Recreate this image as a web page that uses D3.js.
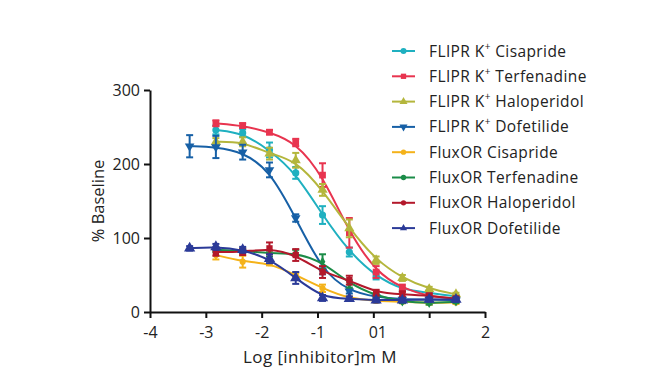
<!DOCTYPE html>
<html><head><meta charset="utf-8">
<script src="https://cdn.jsdelivr.net/npm/d3@7"></script>
<style>
body{margin:0;background:#fff;}
text{font-family:"Open Sans",sans-serif;fill:#222;}
</style></head>
<body><svg id="c" width="650" height="384"></svg>
<script>
const logConc = [-3.29, -2.82, -2.34, -1.86, -1.39, -0.91, -0.43, 0.05, 0.52, 1.0, 1.48];
const xTicks = [-4, -3, -2, -1, 0, 1, 2];
const xTickLabels = ["-4", "-3", "-2", "-1", "01", "", "2"];
const yTicks = [0, 100, 200, 300];

const seriesNames = ["FLIPR K+ Cisapride","FLIPR K+ Terfenadine","FLIPR K+ Haloperidol","FLIPR K+ Dofetilide",
  "FluxOR Cisapride","FluxOR Terfenadine","FluxOR Haloperidol","FluxOR Dofetilide"];

const fliprCisapride    = [null, 246, 242, 219, 188, 131, 81, 48, 30, 26, 21];
const fliprTerfenadine  = [null, 255, 252, 243, 229, 185, 107, 54, 32, 21, 18];
const fliprHaloperidol  = [null, 230, 230, 214, 205, 165, 113, 70, 46, 31, 24];
const fliprDofetilide   = [224, 223, 216, 192, 127, 55, 28, 20, 17, 17, 16];
const fluxCisapride     = [null, 77, 68, 66, 50, 32, 18, 15, 14, 12, 13];
const fluxTerfenadine   = [null, 84, 83, 79, 80, 68, 38, 22, 14, 12, 14];
const fluxHaloperidol   = [null, 81, 81, 86, 77, 54, 43, 26, 24, 22, 18];
const fluxDofetilide    = [86, 88, 84, 72, 46, 19, 18, 16, 16, 17, 17];

const errFliprCisapride   = [null, 6, 5, 10, 8, 12, 6, 4, 3, 3, 2];
const errFliprTerfenadine = [null, 4, 3, 3, 5, 16, 20, 8, 5, 4, 3];
const errFliprHaloperidol = [null, 5, 6, 8, 10, 8, 12, 5, 4, 3, 2];
const errFliprDofetilide  = [15, 15, 10, 10, 5, 4, 3, 3, 3, 3, 3];
const errFluxCisapride    = [null, 6, 8, 3, 3, 5, 3, 2, 2, 2, 2];
const errFluxTerfenadine  = [null, 3, 3, 4, 4, 10, 5, 3, 2, 2, 2];
const errFluxHaloperidol  = [null, 5, 4, 8, 8, 8, 6, 4, 4, 3, 3];
const errFluxDofetilide   = [3, 4, 4, 6, 8, 4, 3, 3, 3, 3, 3];

const values = [fliprCisapride, fliprTerfenadine, fliprHaloperidol, fliprDofetilide,
  fluxCisapride, fluxTerfenadine, fluxHaloperidol, fluxDofetilide];
const errors = [errFliprCisapride, errFliprTerfenadine, errFliprHaloperidol, errFliprDofetilide,
  errFluxCisapride, errFluxTerfenadine, errFluxHaloperidol, errFluxDofetilide];
const colors = ["#1fb0c0","#e8344f","#b4b63c","#1760a6","#f4b21a","#1b8c48","#b3182b","#2b3a98"];
const shapes = [d3.symbolCircle, d3.symbolSquare, d3.symbolTriangle, d3.symbolTriangle,
  d3.symbolCircle, d3.symbolDiamond, d3.symbolSquare, d3.symbolTriangle];
const sizes = [40, 45, 45, 40, 30, 28, 40, 55];
const rot = [0,0,0,180,0,0,0,0];

const svg = d3.select("#c");
svg.append("rect").attr("width",650).attr("height",384).attr("fill","#fff");

const x = d3.scaleLinear().domain([-4, 2]).range([150, 485]);
const y = d3.scaleLinear().domain([0, 300]).range([312, 90]);

// axes
const xAxis = svg.append("g").attr("transform","translate(0,312)")
  .call(d3.axisBottom(x).tickValues(xTicks).tickSize(6).tickSizeOuter(0)
    .tickFormat((d,i)=>xTickLabels[i]));
const yAxis = svg.append("g").attr("transform","translate(150,0)")
  .call(d3.axisLeft(y).tickValues(yTicks).tickSize(6).tickSizeOuter(0));
[xAxis, yAxis].forEach(g=>{
  g.select(".domain").attr("stroke","#111").attr("stroke-width",2);
  g.selectAll(".tick line").attr("stroke","#111").attr("stroke-width",2);
  g.selectAll(".tick text").attr("font-size",16).attr("font-family","Open Sans").attr("fill","#222");
});
xAxis.selectAll(".tick text").attr("dy","1.05em");
xAxis.selectAll(".tick text").filter((d)=>d===0).attr("dx",4);
yAxis.selectAll(".tick text").attr("dx",-1);

svg.append("text").attr("x",320).attr("y",363).attr("text-anchor","middle")
  .attr("font-size",17).attr("letter-spacing",0.4).text("Log [inhibitor]m M");
svg.append("text").attr("transform","translate(104,201) rotate(-90)").attr("text-anchor","middle")
  .attr("font-size",16.5).text("% Baseline");

const line = d3.line().defined(d=>d[1]!=null).x(d=>x(d[0])).y(d=>y(d[1])).curve(d3.curveBasis);

values.forEach((vals,si)=>{
  const pts = logConc.map((c,i)=>[c, vals[i], errors[si][i]]).filter(p=>p[1]!=null);
  const g = svg.append("g");
  g.append("path").datum(pts).attr("d",line).attr("fill","none")
    .attr("stroke",colors[si]).attr("stroke-width",2);
  pts.forEach(p=>{
    const e = p[2]||0;
    if (e>0){
      const cx = x(p[0]);
      g.append("line").attr("x1",cx).attr("x2",cx).attr("y1",y(p[1]-e)).attr("y2",y(p[1]+e))
        .attr("stroke",colors[si]).attr("stroke-width",2);
      [p[1]-e,p[1]+e].forEach(v=>g.append("line").attr("x1",cx-3.5).attr("x2",cx+3.5)
        .attr("y1",y(v)).attr("y2",y(v)).attr("stroke",colors[si]).attr("stroke-width",2));
    }
  });
  g.selectAll("path.m").data(pts).join("path").attr("class","m")
    .attr("d", d3.symbol().type(shapes[si]).size(sizes[si]))
    .attr("transform",d=>`translate(${x(d[0])},${y(d[1])}) rotate(${rot[si]})`)
    .attr("fill",colors[si]);
});

// legend
const lg = svg.append("g");
seriesNames.forEach((name,i)=>{
  const yy = 51 + i*25.3;
  lg.append("line").attr("x1",392).attr("x2",415).attr("y1",yy).attr("y2",yy)
    .attr("stroke",colors[i]).attr("stroke-width",2);
  lg.append("path").attr("d", d3.symbol().type(i>=4 && i<7 ? d3.symbolCircle : shapes[i]).size(i>=4?22:28))
    .attr("transform",`translate(403.5,${yy}) rotate(${rot[i]})`).attr("fill",colors[i]);
  const t = lg.append("text").attr("x",429).attr("y",yy).attr("dy","0.36em")
    .attr("font-size",15.5).attr("letter-spacing",0.4);
  if (name.includes("K+")){
    const parts = name.split("K+");
    t.append("tspan").text(parts[0]+"K");
    t.append("tspan").attr("font-size",10).attr("dy","-0.7em").text("+");
    t.append("tspan").attr("dy","0.45em").text(" " + parts[1].trim());
  } else t.text(name);
});
</script></body></html>
